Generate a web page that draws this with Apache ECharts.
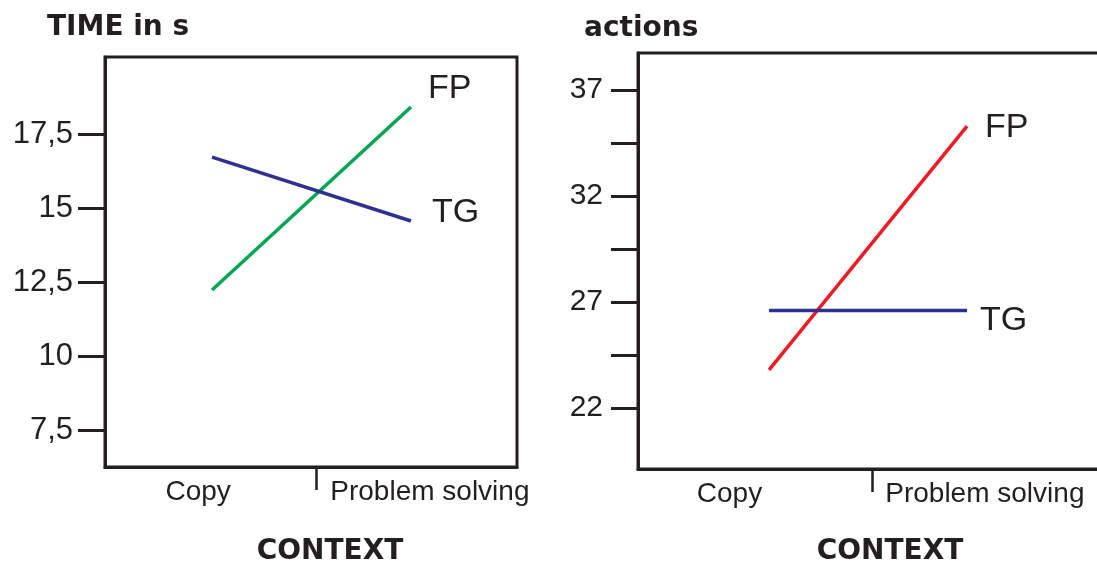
<!DOCTYPE html>
<html lang="en">
<head>
<meta charset="UTF-8">
<title>TIME in s / actions by CONTEXT</title>
<script src="https://cdn.jsdelivr.net/npm/echarts@6/dist/echarts.min.js"></script>
<style>
    html, body { margin: 0; padding: 0; background: #fff; }
    #chart { width: 1097px; height: 567px; }
</style>
</head>
<body>
<div id="chart"></div>
<script>
    // values
    var categories = ['Copy', 'Problem solving'];
    var seriesNames = ['FP', 'TG'];
    var timeFP = [12.23, 18.41];
    var timeTG = [16.72, 14.56];
    var actionsFP = [23.8, 35.3];
    var actionsTG = [26.6, 26.6];
    var timeTicks = [7.5, 10, 12.5, 15, 17.5];
    var actionTicks = [22, 24.5, 27, 29.5, 32, 34.5, 37];
    var actionLabels = [22, 27, 32, 37];

    var ink = '#231f20';
    var labelFont = 'Liberation Sans, Arial, sans-serif';
    var boldFont = 'DejaVu Sans, sans-serif';

    function pts(vals) {
        var out = [];
        for (var i = 0; i < vals.length; i++) out.push([i, vals[i]]);
        return out;
    }
    function catName(v) {
        return v < 0.5 ? categories[0] : categories[1];
    }

    function xAxis(idx, min, max, tickAt, labelAt) {
        return {
            type: 'value', gridIndex: idx, min: min, max: max,
            splitLine: { show: false },
            axisLine: { show: true, onZero: false, lineStyle: { color: ink, width: 3 } },
            axisTick: { show: true, length: 23, customValues: [tickAt], lineStyle: { color: ink, width: 2.5 } },
            axisLabel: {
                customValues: labelAt, formatter: catName, margin: 11,
                color: ink, fontSize: 28, fontFamily: labelFont
            }
        };
    }
    function yAxis(idx, min, max, ticks, labels, fmt, size, margin) {
        return {
            type: 'value', gridIndex: idx, min: min, max: max,
            splitLine: { show: false },
            axisLine: { show: true, onZero: false, lineStyle: { color: ink, width: 3 } },
            axisTick: { show: true, length: 27, customValues: ticks, lineStyle: { color: ink, width: 3 } },
            axisLabel: {
                customValues: labels, formatter: fmt, margin: margin,
                color: ink, fontSize: size, fontFamily: labelFont
            }
        };
    }
    function line(name, xi, vals, color, dist, dy) {
        return {
            name: name, type: 'line', xAxisIndex: xi, yAxisIndex: xi,
            data: pts(vals), symbol: 'none', silent: true, animation: false,
            lineStyle: { color: color, width: 3.5 },
            endLabel: {
                show: true, formatter: '{a}', distance: dist, offset: [0, dy],
                color: ink, fontSize: 34, fontFamily: labelFont
            }
        };
    }

    var chart = echarts.init(document.getElementById('chart'));
    chart.setOption({
        backgroundColor: '#fff',
        title: [
            { text: 'TIME in s', left: 47, top: 14, padding: 0,
              textStyle: { fontSize: 28, fontWeight: 'bold', color: ink, fontFamily: boldFont } },
            { text: 'actions', left: 584, top: 15, padding: 0,
              textStyle: { fontSize: 28, fontWeight: 'bold', color: ink, fontFamily: boldFont } },
            { text: 'CONTEXT', left: 330, top: 538, padding: 0, textAlign: 'center',
              textStyle: { fontSize: 28, fontWeight: 'bold', color: ink, fontFamily: boldFont } },
            { text: 'CONTEXT', left: 890, top: 538, padding: 0, textAlign: 'center',
              textStyle: { fontSize: 28, fontWeight: 'bold', color: ink, fontFamily: boldFont } }
        ],
        grid: [
            { left: 105, top: 57, width: 412, bottom: 100, show: true, borderColor: ink, borderWidth: 3,
              outerBoundsMode: 'none' },
            { left: 638, top: 53, width: 470, bottom: 98, show: true, borderColor: ink, borderWidth: 3,
              outerBoundsMode: 'none' }
        ],
        xAxis: [
            xAxis(0, -0.538, 1.533, 0.523, [-0.07, 1.095]),
            xAxis(1, -0.662, 1.712, 0.52, [-0.2, 1.09])
        ],
        yAxis: [
            yAxis(0, 6.25, 20.1, timeTicks, timeTicks,
                  function (v) { return String(v).replace('.', ','); }, 31, 32),
            yAxis(1, 19.12, 38.75, actionTicks, actionLabels,
                  function (v) { return String(v); }, 30, 35)
        ],
        series: [
            line(seriesNames[0], 0, timeFP, '#00a651', 17, -18),
            line(seriesNames[1], 0, timeTG, '#2e3192', 21, -8),
            line(seriesNames[0], 1, actionsFP, '#ed1c24', 18, 2),
            line(seriesNames[1], 1, actionsTG, '#2e3192', 13, 10)
        ]
    });
</script>
</body>
</html>
